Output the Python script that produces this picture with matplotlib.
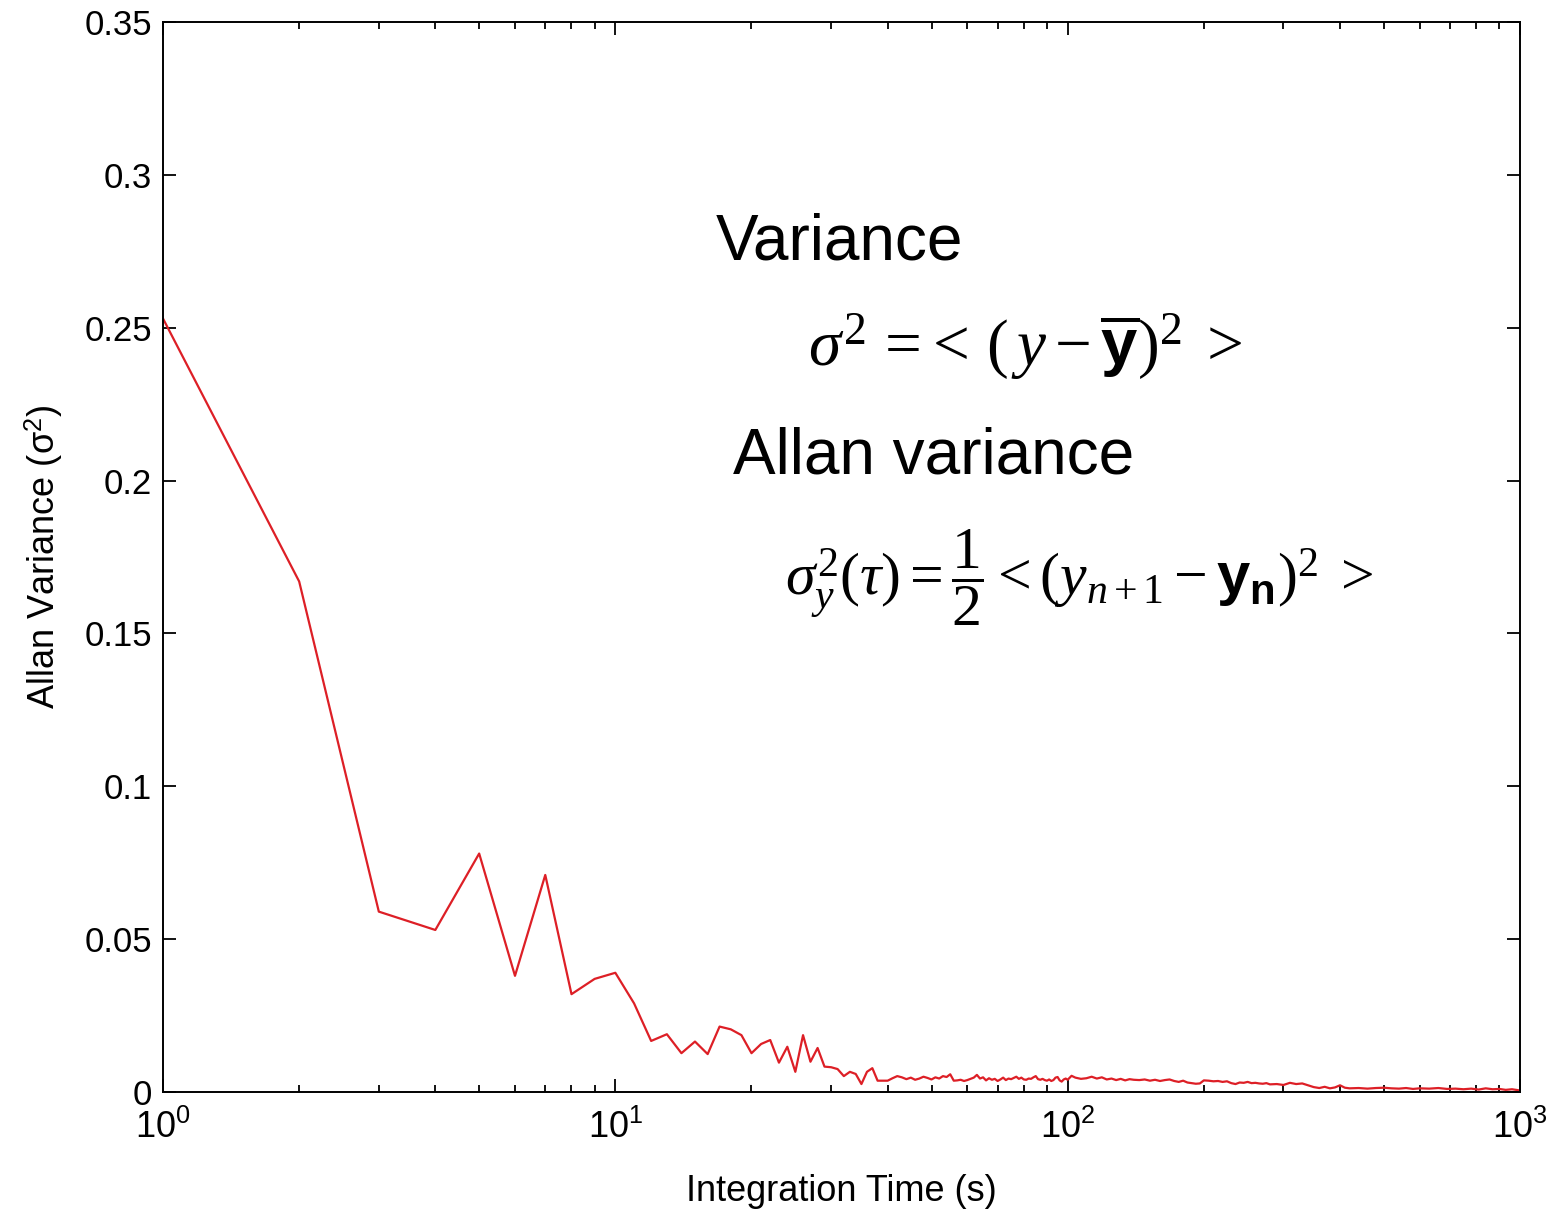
import numpy as np
import matplotlib
matplotlib.use("Agg")
from matplotlib import pyplot as plt

plt.rcParams['font.family'] = ['Liberation Sans', 'DejaVu Sans']
plt.rcParams['mathtext.fontset'] = 'custom'
plt.rcParams['mathtext.rm'] = 'Liberation Serif'
plt.rcParams['mathtext.it'] = 'Liberation Serif:italic'
plt.rcParams['mathtext.bf'] = 'Liberation Serif:bold'
plt.rcParams['mathtext.sf'] = 'Liberation Sans:bold'

# integration time (s) and allan variance
tau_head = [1, 2, 3, 4, 5, 6, 7, 8, 9, 10, 11, 12, 13, 14, 15, 16, 17, 18, 19, 20,
            21, 22, 23, 24, 25, 26, 27, 28, 29, 30, 31, 32, 33, 34, 35, 36, 37, 38, 39, 40]
avar_head = [0.253, 0.167, 0.059, 0.053, 0.078, 0.038, 0.071, 0.032, 0.037, 0.039,
             0.029, 0.0167, 0.0189, 0.0127, 0.0165, 0.0124, 0.0214, 0.0205, 0.0186, 0.0127,
             0.0157, 0.0170, 0.0096, 0.0148, 0.0066, 0.0186, 0.0099, 0.0144, 0.0083, 0.0081,
             0.0075, 0.0052, 0.0066, 0.0059, 0.0026, 0.0066, 0.0078, 0.0037, 0.0037, 0.0037]

tau_mid = list(range(41, 101))
avar_mid = [0.0045, 0.0052, 0.0048, 0.0042, 0.0047, 0.0040, 0.0044, 0.0050, 0.0046, 0.0041,
            0.0048, 0.0044, 0.0052, 0.0049, 0.0058, 0.0037, 0.0038, 0.0040, 0.0036, 0.0039,
            0.0043, 0.0047, 0.0056, 0.0044, 0.0048, 0.0038, 0.0045, 0.0040, 0.0043, 0.0036,
            0.0041, 0.0047, 0.0039, 0.0044, 0.0042, 0.0046, 0.0050, 0.0043, 0.0047, 0.0041,
            0.0040, 0.0044, 0.0043, 0.0048, 0.0052, 0.0042, 0.0040, 0.0043, 0.0039, 0.0037,
            0.0041, 0.0036, 0.0039, 0.0047, 0.0049, 0.0038, 0.0034, 0.0041, 0.0044, 0.0040]

tau_tail = [102, 104, 107, 110, 113, 116, 119, 122, 125, 128, 131, 134, 137, 140, 144, 148,
            152, 156, 160, 164, 168, 172, 176, 180, 184, 188, 192, 196, 200, 205, 210, 215,
            220, 225, 230, 235, 240, 245, 250, 255, 260, 265, 270, 275, 280, 290, 300, 310,
            320, 330, 340, 350, 360, 370, 380, 390, 400, 410, 420, 440, 460, 480, 500, 520,
            540, 560, 580, 600, 630, 660, 690, 720, 750, 780, 810, 840, 870, 900, 930, 960, 1000]
avar_tail = [0.0053, 0.0047, 0.0043, 0.0045, 0.0050, 0.0044, 0.0048, 0.0041, 0.0044, 0.0039,
             0.0043, 0.0038, 0.0042, 0.0040, 0.0039, 0.0041, 0.0037, 0.0040, 0.0036, 0.0039,
             0.0041, 0.0036, 0.0033, 0.0037, 0.0031, 0.0029, 0.0027, 0.0028, 0.0038, 0.0037,
             0.0035, 0.0036, 0.0033, 0.0035, 0.0029, 0.0026, 0.0031, 0.0030, 0.0033, 0.0029,
             0.0030, 0.0028, 0.0027, 0.0029, 0.0025, 0.0026, 0.0023, 0.0030, 0.0026, 0.0028,
             0.0022, 0.0016, 0.0013, 0.0017, 0.0012, 0.0015, 0.0022, 0.0014, 0.0012, 0.0013,
             0.0011, 0.0013, 0.0014, 0.0012, 0.0011, 0.0013, 0.0010, 0.0012, 0.0011, 0.0013,
             0.0010, 0.0011, 0.0009, 0.0011, 0.0008, 0.0012, 0.0009, 0.0010, 0.0007, 0.0009, 0.0005]

tau = tau_head + tau_mid + tau_tail
avar = avar_head + avar_mid + avar_tail

yticks = [0, 0.05, 0.1, 0.15, 0.2, 0.25, 0.3, 0.35]
ylabels = ['0', '0.05', '0.1', '0.15', '0.2', '0.25', '0.3', '0.35']
xticks = [1, 10, 100, 1000]
xlabels = [r'$\mathregular{10^{%d}}$' % i for i in range(4)]

W, H = 1555, 1211
fig = plt.figure(figsize=(W / 100, H / 100), dpi=100)
ax = fig.add_axes([163 / W, 1 - 1092 / H, (1520 - 163) / W, (1092 - 22) / H])

ax.plot(tau, avar, color='#dd1f26', lw=1.6)
ax.set_xscale('log')
ax.set_xlim(1, 1000)
ax.set_ylim(0, 0.35)
ax.set_yticks(yticks, labels=ylabels)
ax.set_xticks(xticks, labels=xlabels)

for s in ax.spines.values():
    s.set_linewidth(1.4)
ax.tick_params(which='both', direction='in', top=True, right=True, width=1.3, labelsize=25)
ax.tick_params(which='major', length=9.5, pad=8)
ax.tick_params(which='minor', length=5)
ax.tick_params(axis='x', labelsize=26, pad=13)

ax.set_xlabel('Integration Time (s)', fontsize=26, labelpad=20)
ax.set_ylabel(r'Allan Variance (σ$^{\mathregular{2}}$)', fontsize=26, labelpad=14)

def px(x, y):
    return x / W, 1 - y / H

fig.text(*px(716, 260), 'Variance', fontsize=46, ha='left', va='baseline')
fig.text(*px(733, 473), 'Allan variance', fontsize=46, ha='left', va='baseline')
fig.text(*px(808, 365), r'$\sigma^{2}\,=\!<\,(\,y - \overline{\mathsf{y}})^{2}\;>$',
         fontsize=47, ha='left', va='baseline')
fig.text(*px(785, 595),
         r'$\sigma_y^2(\tau) = \dfrac{1}{2} < (y_{n+1} - \mathsf{y_n})^{2}\;>$',
         fontsize=43, ha='left', va='baseline')

fig.savefig('out.png', dpi=100)
